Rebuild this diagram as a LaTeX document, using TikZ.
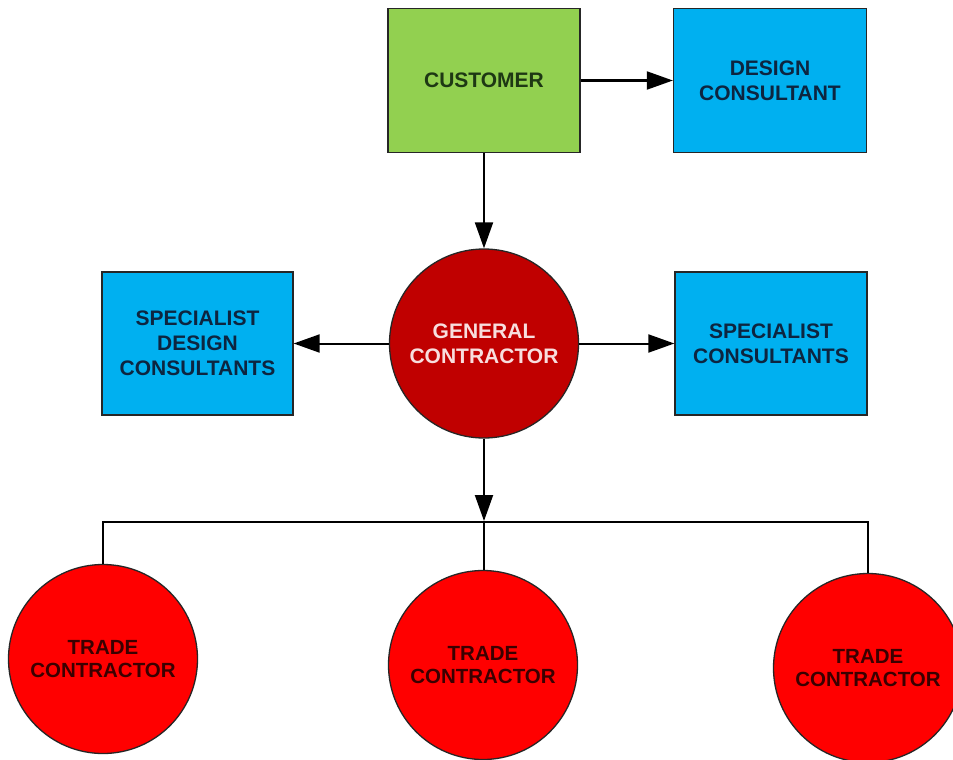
\documentclass[tikz,border=0pt]{standalone}
\usepackage{fontspec}
\setmainfont{Liberation Sans}
\usetikzlibrary{arrows.meta}
\definecolor{custgreen}{HTML}{92D050}
\definecolor{custtext}{HTML}{1E3814}
\definecolor{cblue}{HTML}{00B0F0}
\definecolor{bluetext}{HTML}{0D2540}
\definecolor{gcred}{HTML}{C00000}
\definecolor{gctext}{HTML}{F8DEDE}
\definecolor{tred}{HTML}{FF0000}
\definecolor{ttext}{HTML}{3A0000}
\begin{document}
\begin{tikzpicture}[x=1pt,y=-1pt,
  lbl/.style={font=\bfseries\fontsize{21}{25}\selectfont, align=center},
  boxnode/.style={lbl, draw=black!85, line width=1.3pt, inner sep=0pt, minimum width=192pt, minimum height=144pt},
  circnode/.style={lbl, circle, draw=black!85, line width=1.3pt, inner sep=0pt, minimum size=189pt},
  tradenode/.style={circnode, fill=tred, text=ttext, font=\bfseries\fontsize{20.5}{23}\selectfont},
  conn/.style={line width=2pt, draw=black},
  arr/.style={conn, -{Triangle[length=26pt,width=18pt]}}]
\useasboundingbox (0,0) rectangle (953,760);
\fill[white] (0,0) rectangle (953,760);

\node[boxnode, fill=custgreen, text=custtext] (customer) at (484,80.5) {CUSTOMER};
\node[boxnode, fill=cblue, text=bluetext, minimum width=193pt] (design) at (770,80.5) {DESIGN\\CONSULTANT};
\node[boxnode, fill=cblue, text=bluetext, minimum width=191pt, minimum height=143pt] (specdesign) at (197.5,343.5) {SPECIALIST\\DESIGN\\CONSULTANTS};
\node[boxnode, fill=cblue, text=bluetext, minimum height=143pt] (speccons) at (771,343.5) {SPECIALIST\\CONSULTANTS};
\node[circnode, fill=gcred, text=gctext] (gc) at (484,343.5) {GENERAL\\CONTRACTOR};

\node[tradenode] (trade1) at (103,659) {TRADE\\CONTRACTOR};
\node[tradenode] (trade2) at (483,665) {TRADE\\CONTRACTOR};
\node[tradenode] (trade3) at (868,668) {TRADE\\CONTRACTOR};

\coordinate (bus) at (484,522);

\draw[arr] (customer.east) -- (design.west);
\draw[arr] (customer.south) -- (gc.north);
\draw[arr] (gc.west) -- (specdesign.east);
\draw[arr] (gc.east) -- (speccons.west);
\draw[arr, shorten >=1pt] (gc.south) -- (bus);
\draw[conn] (trade1.north) |- (bus) -| (trade3.north);
\draw[conn] (bus) -- (bus |- trade2.north);
\end{tikzpicture}
\end{document}
